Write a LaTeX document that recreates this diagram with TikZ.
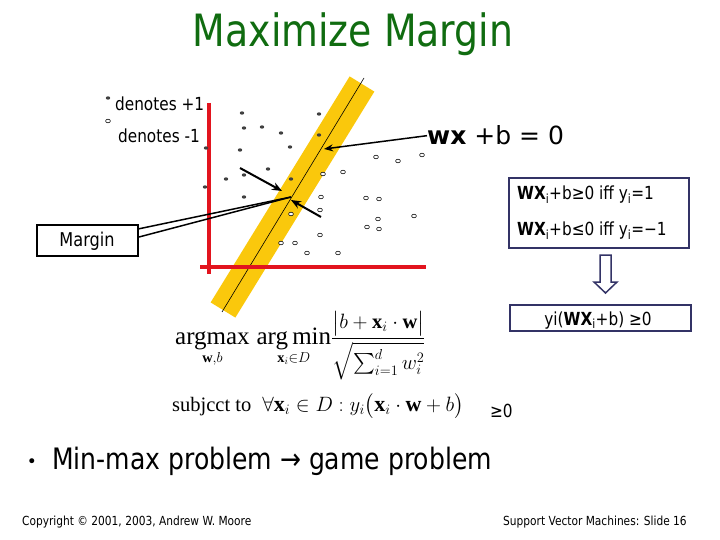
\documentclass[tikz,border=0pt]{standalone}
\usepackage{fontspec}
\usepackage{amsmath}
\setmainfont{Liberation Serif}
\newfontfamily\tah{DejaVu Sans}
\usetikzlibrary{arrows.meta}
\definecolor{titlegreen}{RGB}{16,108,16}
\definecolor{axisred}{RGB}{226,20,30}
\definecolor{bandgold}{RGB}{250,200,12}
\definecolor{navy}{RGB}{51,51,102}
\newcommand{\fsz}[1]{\fontsize{#1}{#1}\selectfont}
\begin{document}
\begin{tikzpicture}[x=1pt,y=-1pt,
  tahtext/.style={font=\tah, inner sep=0pt, xscale=0.85},
  posdot/.style={fill=black!75},
  negdot/.style={draw=black, line width=0.6pt, fill=white},
  blackarrow/.style={line width=2pt, -{Stealth[length=10pt,width=8pt]}},
  navybox/.style={draw=navy, line width=1.5pt, fill=white, inner sep=0pt}]
\useasboundingbox (0,0) rectangle (720,540);
\fill[white] (0,0) rectangle (720,540);

% title
\node[tahtext, font=\tah\fsz{44.5}, text=titlegreen, anchor=base] (title) at (353,47) {Maximize Margin};

% legend
\fill[posdot] (108,98) ellipse (2.2 and 1.7);
\draw[negdot] (108,121) ellipse (2.4 and 1.8);
\node[tahtext, font=\tah\fsz{18}, anchor=base west] (lp) at (115,111) {denotes +1};
\node[tahtext, font=\tah\fsz{18}, anchor=base west] (ln) at (118,143) {denotes -1};

% band and separating line
\draw[bandgold, line width=29pt] (362,84) -- (223,310);
\draw[black, line width=0.6pt] (364,78) -- (222,312);

% axes
\draw[axisred, line width=4pt] (209,103) -- (209,274);
\draw[axisred, line width=4pt] (200,267) -- (426,267);

% +1 points
\foreach \p in {(242,113),(319,114),(244,128),(262,127),(281,133),(319,135),(206,148),(240,150),(290,147),(268,169),(244,175),(226,179),(291,179),(205,187),(244,197)}
  \fill[posdot] \p ellipse (2.2 and 1.7);
% -1 points
\foreach \p in {(376,157),(398,161),(422,155),(343,172),(323,174),(321,197),(366,198),(379,199),(414,216),(320,210),(291,214),(378,219),(367,227),(379,229),(320,235),(281,243),(295,243),(307,253),(338,253)}
  \draw[negdot] \p ellipse (2.4 and 1.8);

% margin arrows
\coordinate (a1s) at (240,168);
\coordinate (a1e) at (282,191);
\coordinate (a2s) at (321,217);
\coordinate (a2e) at (291,200);
\draw[blackarrow] (a1s) -- (a1e);
\draw[blackarrow] (a2s) -- (a2e);

% wx + b = 0
\node[inner sep=0pt, font=\tah\fsz{25}, anchor=base west] (wx) at (427,145) {\textbf{wx} +b = 0};
\coordinate (wxtip) at (324,149);
\draw[line width=1.5pt, -{Stealth[length=9pt,width=7pt]}] (wx.west) -- (wxtip);

% Margin callout
\node[draw=black, line width=1.5pt, minimum width=101pt, minimum height=31pt, inner sep=0pt] (margin) at (87.5,240.5) {};
\node[tahtext, font=\tah\fsz{19}] (margintext) at (87,241) {Margin};
\coordinate (m1) at (138,229);
\coordinate (m2) at (139,237);
\coordinate (mt) at (291,197);
\draw[line width=1.5pt] (m1) -- (mt);
\draw[line width=1.5pt] (m2) -- (mt);

% condition box
\node[navybox, minimum width=180pt, minimum height=70pt] (cond) at (599,213) {};
\node[tahtext, font=\tah\fsz{18}, anchor=base west] (c1) at (517,200) {\textbf{WX}\textsubscript{i}+b≥0 iff y\textsubscript{i}=1};
\node[tahtext, font=\tah\fsz{18}, anchor=base west] (c2) at (517,236) {\textbf{WX}\textsubscript{i}+b≤0 iff y\textsubscript{i}=−1};

% hollow down arrow
\draw[navy, line width=1.5pt, fill=white] (600,255) -- (611,255) -- (611,282) -- (617,282) -- (605.5,293) -- (594,282) -- (600,282) -- cycle;

% result box
\node[navybox, minimum width=181pt, minimum height=26pt] (res) at (600.5,318) {};
\node[tahtext, font=\tah\fsz{18}, anchor=base] (restext) at (598,325) {yi(\textbf{WX}\textsubscript{i}+b) ≥0};

% formula
\node[inner sep=0pt, anchor=base west, font=\fsz{20.5}] (f1) at (175,344)
  {$\displaystyle \operatorname*{\text{\fsz{25}argmax}}_{\mathbf{w},b}\,\operatorname*{\text{\fsz{25}arg\,min}}_{\mathbf{x}_i\in D}\!\frac{\bigl|b+\mathbf{x}_i\cdot\mathbf{w}\bigr|}{\sqrt{\sum_{i=1}^{d} w_i^2}}$};
\node[inner sep=0pt, anchor=base west, font=\fsz{22}] (f2) at (172,411)
  {{\fsz{20.5}subjcct to}\ \ $\forall\mathbf{x}_i\in D: y_i\bigl(\mathbf{x}_i\cdot\mathbf{w}+b\bigr)$};
\node[tahtext, font=\tah\fsz{18}, anchor=base west] (f3) at (490,417) {≥0};

% bullet line
\node[inner sep=0pt, font=\tah\fsz{17}] (bul) at (32,463) {•};
\node[tahtext, font=\tah\fsz{29.5}, anchor=base west] (mm) at (52,469) {Min-max problem → game problem};

% footer
\node[tahtext, font=\tah\fsz{12.5}, anchor=base west] (copy) at (22,525) {Copyright © 2001, 2003, Andrew W. Moore};
\node[tahtext, font=\tah\fsz{12.5}, anchor=base west] (slide) at (503,525) {Support Vector Machines: Slide 16};
\end{tikzpicture}
\end{document}
